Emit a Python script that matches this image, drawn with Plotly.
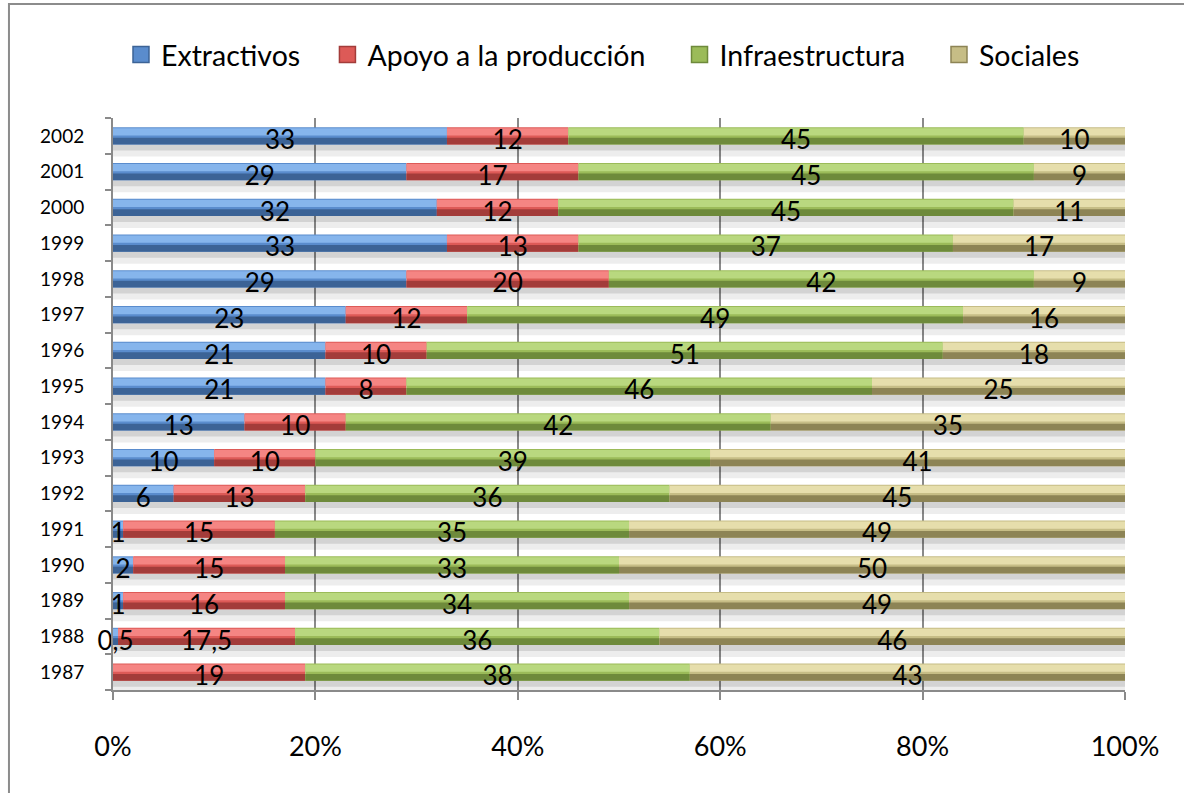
import plotly.graph_objects as go

years = ["1987", "1988", "1989", "1990", "1991", "1992", "1993", "1994",
         "1995", "1996", "1997", "1998", "1999", "2000", "2001", "2002"]
extractivos = [0, 0.5, 1, 2, 1, 6, 10, 13, 21, 21, 23, 29, 33, 32, 29, 33]
apoyo = [19, 17.5, 16, 15, 15, 13, 10, 10, 8, 10, 12, 20, 13, 12, 17, 12]
infraestructura = [38, 36, 34, 33, 35, 36, 39, 42, 46, 51, 49, 42, 37, 45, 45, 45]
sociales = [43, 46, 49, 50, 49, 45, 41, 35, 25, 18, 16, 9, 17, 11, 9, 10]
series_names = ["Extractivos", "Apoyo a la producción", "Infraestructura", "Sociales"]
x_ticks = [0, 20, 40, 60, 80, 100]
x_ticktext = ["0%", "20%", "40%", "60%", "80%", "100%"]

series_values = [extractivos, apoyo, infraestructura, sociales]
# (mid, light, dark)
palettes = [
    ("#5A8CCD", "#86B5EC", "#3C6396"),
    ("#DD5A57", "#F58583", "#A33C3A"),
    ("#9BBB59", "#B9D87F", "#6E8A3B"),
    ("#C6BD86", "#E6DEAC", "#8D8455"),
]
legend_x = [0.0079, 0.2119, 0.5598, 0.8162]
FONT = "Lato, Carlito, sans-serif"

fig = go.Figure()

# cumulative bases
bases = []
running = [0.0] * len(years)
for vals in series_values:
    bases.append(list(running))
    running = [r + v for r, v in zip(running, vals)]
totals = running

BW = 0.48
# shadow beneath each bar
fig.add_trace(go.Bar(y=years, x=totals, base=[0] * len(years), orientation="h",
                     width=0.34, offset=-BW / 2 - 0.34,
                     marker=dict(color="rgba(0,0,0,0.07)", line=dict(width=0)),
                     showlegend=False, hoverinfo="skip"))
fig.add_trace(go.Bar(y=years, x=totals, base=[0] * len(years), orientation="h",
                     width=0.17, offset=-BW / 2 - 0.17,
                     marker=dict(color="rgba(0,0,0,0.11)", line=dict(width=0)),
                     showlegend=False, hoverinfo="skip"))

for i, (name, vals, base, pal) in enumerate(zip(series_names, series_values, bases, palettes)):
    mid, light, dark = pal
    lg = "legend" if i == 0 else f"legend{i + 1}"
    fig.add_trace(go.Bar(y=years, x=vals, base=base, orientation="h", name=name,
                         width=BW, offset=-BW / 2, legendgroup=name,
                         marker=dict(color=mid, line=dict(width=0)),
                         showlegend=False))
    fig.add_trace(go.Bar(y=years, x=vals, base=base, orientation="h",
                         width=0.20, offset=0.01, legendgroup=name,
                         marker=dict(color=light, line=dict(width=0)),
                         showlegend=False, hoverinfo="skip"))
    fig.add_trace(go.Bar(y=years, x=vals, base=base, orientation="h",
                         width=0.19, offset=-BW / 2, legendgroup=name,
                         marker=dict(color=dark, line=dict(width=0)),
                         showlegend=False, hoverinfo="skip"))
    # legend entry with a larger square key
    fig.add_trace(go.Scatter(x=[None], y=[None], mode="markers", name=name,
                             legend=lg, legendgroup=name, showlegend=True,
                             marker=dict(symbol="square", size=16, color=mid,
                                         line=dict(color=dark, width=1.5))))

# data labels: text-only scatter on an overlaid numeric axis matching category slots
lab_x, lab_y, lab_t = [], [], []
for vals, base in zip(series_values, bases):
    for idx, (v, b) in enumerate(zip(vals, base)):
        if v <= 0:
            continue
        lab_x.append(b + v / 2)
        lab_y.append(idx - 0.19)
        lab_t.append(f"{v:g}".replace(".", ","))
fig.add_trace(go.Scatter(x=lab_x, y=lab_y, text=lab_t, mode="text", yaxis="y2",
                         textposition="middle center", cliponaxis=False,
                         textfont=dict(family=FONT, size=26, color="black"),
                         showlegend=False, hoverinfo="skip"))

legend_common = dict(orientation="h", y=1.110, yanchor="middle", xanchor="left",
                     font=dict(family=FONT, size=28.5, color="black"),
                     bgcolor="rgba(0,0,0,0)", borderwidth=0)
layout_legends = {}
for i, lx in enumerate(legend_x):
    key = "legend" if i == 0 else f"legend{i + 1}"
    layout_legends[key] = dict(x=lx, **legend_common)

fig.update_layout(
    width=1184, height=793,
    margin=dict(l=113, r=59, t=118, b=103, autoexpand=False),
    paper_bgcolor="white", plot_bgcolor="white",
    barmode="overlay", bargap=0.5,
    font=dict(family=FONT, color="black"),
    shapes=[dict(type="rect", xref="paper", yref="paper",
                 x0=-0.1028, x1=1.2, y0=-0.3, y1=1.1993,
                 line=dict(color="#8C8C8C", width=2), fillcolor="rgba(0,0,0,0)",
                 layer="below")],
    yaxis2=dict(overlaying="y", range=[-0.5, len(years) - 0.5], visible=False,
                showgrid=False, zeroline=False),
    **layout_legends,
)
fig.update_xaxes(range=[0, 100], tickmode="array", tickvals=x_ticks, ticktext=x_ticktext,
                 showgrid=True, gridcolor="#8A8A8A", gridwidth=1.5,
                 showline=True, linecolor="#8A8A8A", linewidth=2,
                 ticks="outside", ticklen=8, tickcolor="#8A8A8A", tickwidth=2,
                 zeroline=False, ticklabelstandoff=24,
                 tickfont=dict(family=FONT, size=27, color="black"))
fig.layout.yaxis.update(type="category", categoryorder="array", categoryarray=years,
                        range=[-0.5, len(years) - 0.5], tickson="boundaries",
                        showgrid=False, showline=True, linecolor="#8A8A8A", linewidth=2,
                        ticks="outside", ticklen=6, tickcolor="#8A8A8A", tickwidth=2,
                        ticklabelstandoff=23,
                        tickfont=dict(family=FONT, size=19, color="black"))

fig.write_html("out.html", config={"displayModeBar": False},
               post_script="document.body.style.margin='0';")
